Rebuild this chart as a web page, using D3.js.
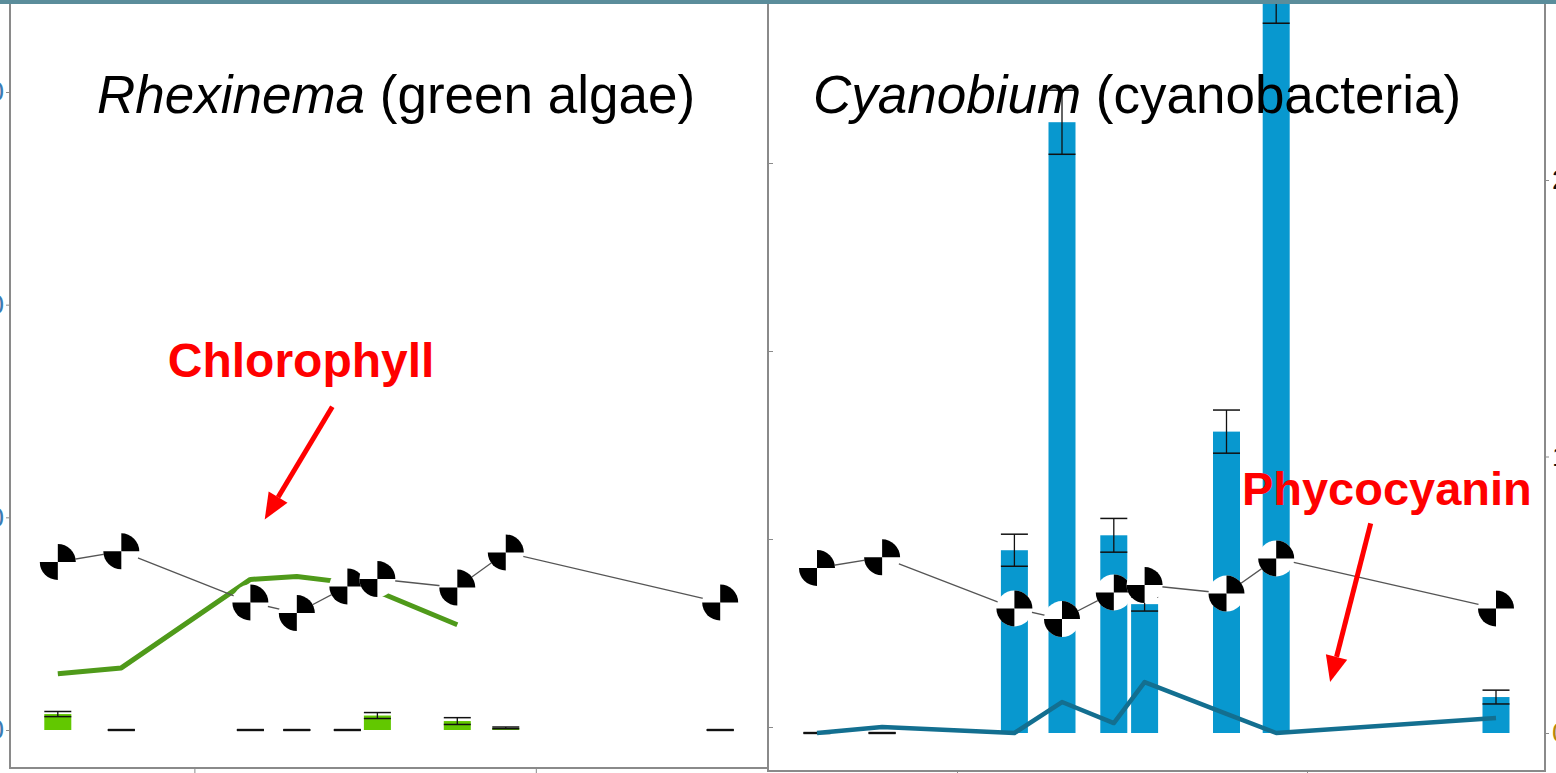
<!DOCTYPE html>
<html>
<head>
<meta charset="utf-8">
<script src="https://cdn.jsdelivr.net/npm/d3@7"></script>
<style>
  body { margin: 0; background: #fff; }
  svg { display: block; font-family: "Liberation Sans", Arial, sans-serif; }
</style>
</head>
<body>
<div id="chart"></div>
<script>
// sampling days, shared by both panels
const days = [7, 16.3, 35.2, 42, 49.4, 53.8, 65.5, 72.6, 104];
const dayTicks = [27, 77];

// black quartered-circle series (same in both panels)
const markerVals = [0.79, 0.84, 0.60, 0.55, 0.675, 0.71, 0.67, 0.835, 0.60];

// Rhexinema (left panel)
const chloroLine = [0.264, 0.292, 0.708, 0.722, 0.693, 0.651, 0.495, null, null];
const greenBars  = [0.075, 0, 0, 0, 0, 0.068, 0.042, 0.01, 0];
const greenErr   = [0.012, 0, 0, 0, 0, 0.014, 0.016, 0.004, 0];
const leftTicks  = [0, 1, 2, 3];

// Cyanobium (right panel)
const blueBars   = [0, 0, 0.661, 2.209, 0.715, 0.466, 1.090, 2.675, 0.130];
const blueErr    = [0, 0, 0.058, 0.116, 0.061, 0.025, 0.078, 0.108, 0.025];
const phycoLine  = [0, 0.022, 0, 0.112, 0.036, 0.184, 0.069, 0, 0.054];
const rightTicks = [0, 1, 2];

const W = 1556, H = 773;
const barW = 27, markR = 18;

const svg = d3.select("#chart").append("svg")
    .attr("width", W)
    .attr("height", H);

// scales
const xL = d3.scaleLinear().domain([0, 111]).range([10, 768]);
const xR = d3.scaleLinear().domain([0, 111]).range([768, 1545]);
const yL = d3.scaleLinear().domain([0, 3]).range([730, 92]);
const yR = d3.scaleLinear().domain([0, 2]).range([733, 180]);
const yRin = d3.scaleLinear().domain([0, 3]).range([727, 163]);   // inner axis of right panel
const yRm = d3.scaleLinear().domain([0, 3]).range([736, 98]);     // marker series in right panel

const frameCol = "#8a8a8a";

// bars with error bars
function drawBars(g, xs, ys, vals, errs, fill) {
  const data = days.map((d, i) => ({d: d, v: vals[i], e: errs[i]}));
  g.selectAll("rect.bar")
    .data(data)
    .join("rect")
      .attr("class", "bar")
      .attr("x", d => xs(d.d) - barW / 2)
      .attr("width", barW)
      .attr("y", d => ys(d.v))
      .attr("height", d => ys(0) - ys(d.v))
      .attr("fill", fill);
  const eb = g.selectAll("g.err").data(data).join("g").attr("class", "err");
  eb.append("line")
      .attr("x1", d => xs(d.d)).attr("x2", d => xs(d.d))
      .attr("y1", d => ys(Math.max(0, d.v - d.e))).attr("y2", d => ys(d.v + d.e))
      .attr("stroke", "#111").attr("stroke-width", 1.3);
  [-1, 1].forEach(s => {
    eb.append("line")
      .attr("x1", d => xs(d.d) - barW / 2).attr("x2", d => xs(d.d) + barW / 2)
      .attr("y1", d => ys(Math.max(0, d.v + s * d.e))).attr("y2", d => ys(Math.max(0, d.v + s * d.e)))
      .attr("stroke", "#111").attr("stroke-width", d => d.v === 0 ? 2.2 : 1.5);
  });
}

function drawSeries(g, xs, ys, vals, col, width) {
  const line = d3.line()
    .defined(d => d.v != null)
    .x(d => xs(d.d))
    .y(d => ys(d.v));
  g.append("path")
    .datum(days.map((d, i) => ({d: d, v: vals[i]})))
    .attr("d", line)
    .attr("fill", "none")
    .attr("stroke", col)
    .attr("stroke-width", width)
    .attr("stroke-linejoin", "round");
}

const quarter = d3.arc().innerRadius(0).outerRadius(markR);
function drawMarkers(g, xs, ys) {
  drawSeries(g, xs, ys, markerVals, "#555", 1.3);
  const m = g.selectAll("g.mk")
    .data(days.map((d, i) => ({d: d, v: markerVals[i]})))
    .join("g")
      .attr("class", "mk")
      .attr("transform", d => `translate(${xs(d.d)},${ys(d.v)})`);
  m.append("circle").attr("r", markR).attr("fill", "#fff");
  m.append("path").attr("d", quarter({startAngle: 0, endAngle: Math.PI / 2})).attr("fill", "#000");
  m.append("path").attr("d", quarter({startAngle: Math.PI, endAngle: Math.PI * 1.5})).attr("fill", "#000");
}

function arrow(g, x1, y1, x2, y2) {
  const a = Math.atan2(y2 - y1, x2 - x1), L = 26, w = 11;
  const bx = x2 - L * Math.cos(a), by = y2 - L * Math.sin(a);
  g.append("line")
    .attr("x1", x1).attr("y1", y1).attr("x2", bx).attr("y2", by)
    .attr("stroke", "#ff0000").attr("stroke-width", 5);
  g.append("path")
    .attr("d", `M${x2},${y2}L${bx + w * Math.sin(a)},${by - w * Math.cos(a)}L${bx - w * Math.sin(a)},${by + w * Math.cos(a)}Z`)
    .attr("fill", "#ff0000");
}

// ---- left panel ----
const gl = svg.append("g");
drawBars(gl, xL, yL, greenBars, greenErr, "#62c800");
drawSeries(gl, xL, yL, chloroLine, "#4f9a1a", 5);
drawMarkers(gl, xL, yL);

// ---- right panel ----
const gr = svg.append("g");
drawBars(gr, xR, yR, blueBars, blueErr, "#0898cf");
drawSeries(gr, xR, yR, phycoLine, "#136f90", 4.5);
drawMarkers(gr, xR, yRm);

// frames and axes (tick labels run off the cropped picture, as in the slide)
const frame = svg.append("g").attr("stroke", frameCol).attr("stroke-width", 2).attr("fill", "none");
frame.append("path").attr("d", "M10,4V768H768");
frame.append("path").attr("d", "M768,4V771H1545V4");

const axL = svg.append("g").attr("transform", "translate(10,0)")
  .call(d3.axisLeft(yL).tickValues(leftTicks).tickSize(4).tickPadding(2));
axL.select(".domain").remove();
axL.selectAll("line").attr("stroke", frameCol);
axL.selectAll("text").attr("fill", "#3b7cb4").style("font-size", "28px");

const axRin = svg.append("g").attr("transform", "translate(768,0)")
  .call(d3.axisRight(yRin).ticks(3).tickSize(5).tickFormat(""));
axRin.select(".domain").remove();
axRin.selectAll("line").attr("stroke", frameCol);

const axR = svg.append("g").attr("transform", "translate(1545,0)")
  .call(d3.axisRight(yR).tickValues(rightTicks).tickSize(4).tickPadding(3));
axR.select(".domain").remove();
axR.selectAll("line").attr("stroke", frameCol);
axR.selectAll("text")
  .attr("fill", d => d === 0 ? "#b8860b" : "#111")
  .style("font-size", "28px");

const axBL = svg.append("g").attr("transform", "translate(0,768)")
  .call(d3.axisBottom(xL).tickValues(dayTicks).tickSize(5).tickFormat(""));
axBL.select(".domain").remove();
axBL.selectAll("line").attr("stroke", frameCol);
const axBR = svg.append("g").attr("transform", "translate(0,771)")
  .call(d3.axisBottom(xR).tickValues(dayTicks).tickSize(5).tickFormat(""));
axBR.select(".domain").remove();
axBR.selectAll("line").attr("stroke", frameCol);

// annotations
const ann = svg.append("g");
ann.append("text")
  .attr("x", xL(23.1)).attr("y", yL(1.66))
  .attr("fill", "#ff0000").attr("font-weight", "bold").style("font-size", "48px")
  .text("Chlorophyll");
arrow(ann, xL(47.2), yL(1.52), xL(37.3), yL(0.99));

ann.append("text")
  .attr("x", xR(67.7)).attr("y", yR(0.823))
  .attr("fill", "#ff0000").attr("font-weight", "bold").style("font-size", "47px")
  .text("Phycocyanin");
arrow(ann, xR(86.1), yR(0.758), xR(80.3), yR(0.184));

// panel titles
const t1 = svg.append("text").attr("x", 97).attr("y", 113).style("font-size", "53px").attr("fill", "#000");
t1.append("tspan").attr("font-style", "italic").text("Rhexinema");
t1.append("tspan").text(" (green algae)");
const t2 = svg.append("text").attr("x", 813).attr("y", 113).style("font-size", "53px").attr("fill", "#000");
t2.append("tspan").attr("font-style", "italic").text("Cyanobium");
t2.append("tspan").text(" (cyanobacteria)");

// top strip
svg.append("rect").attr("x", 0).attr("y", 0).attr("width", W).attr("height", 4).attr("fill", "#5b8d9b");
</script>
</body>
</html>
